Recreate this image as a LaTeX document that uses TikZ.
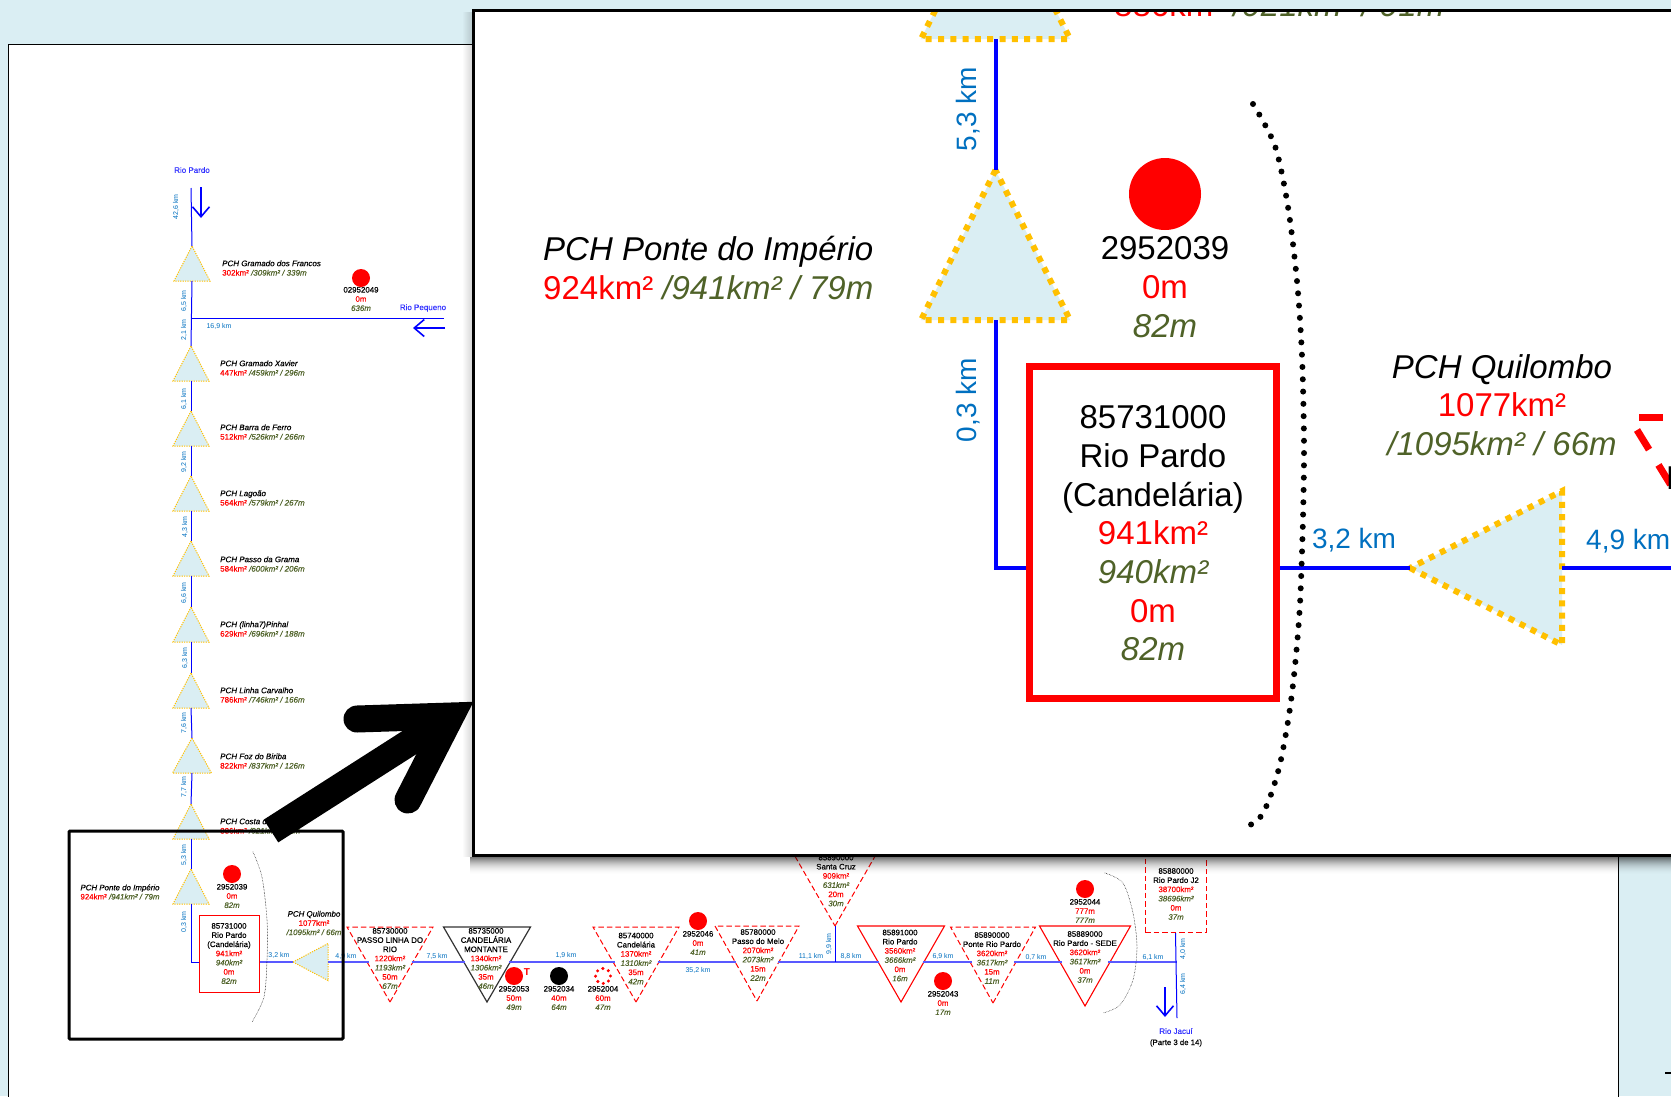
\documentclass[tikz,border=0pt]{standalone}
\usepackage{fontspec}
\setmainfont{Liberation Sans}
\newfontfamily\thumbfont{Liberation Sans}[FakeBold=0.3, ItalicFeatures={FakeBold=0.3}]
\usetikzlibrary{shapes.geometric,arrows.meta}
\definecolor{panelblue}{HTML}{DAEEF3}
\definecolor{stagered}{HTML}{FF0000}
\definecolor{stageolive}{HTML}{4F6228}
\definecolor{kmblue}{HTML}{0070C0}
\definecolor{pchyellow}{HTML}{FFC000}
\newcommand{\redtext}[1]{\textcolor{stagered}{#1}}
\newcommand{\olivetext}[1]{\textcolor{stageolive}{\itshape #1}}
\newcommand{\gaugetext}[5]{#1\\\redtext{#2}\\\olivetext{#3}\\\redtext{#4}\\\olivetext{#5}}
\newcommand{\raintext}[3]{#1\\\redtext{#2}\\\olivetext{#3}}
\newcommand{\pchtext}[3]{{\itshape #1}\\\redtext{#2}\olivetext{#3}}
\tikzset{
	smalltext/.style={inner sep=0pt, align=center, font=\thumbfont\fontsize{7.9}{9.2}\selectfont},
	pchsmall/.style={inner sep=0pt, align=left, font=\thumbfont\fontsize{8}{9.4}\selectfont},
	kmsmall/.style={inner sep=0pt, text=kmblue, font=\fontsize{7}{8.4}\selectfont},
	rivername/.style={inner sep=0pt, text=blue!80, font=\thumbfont\fontsize{8}{9.6}\selectfont},
	bigtext/.style={inner sep=0pt, align=center, font=\fontsize{33}{38.7}\selectfont},
	kmbig/.style={inner sep=0pt, text=kmblue, font=\fontsize{28}{33}\selectfont},
	tri/.style={isosceles triangle, isosceles triangle stretches, inner sep=0pt, outer sep=0pt},
	pchsmallmark/.style={tri, anchor=apex, shape border rotate=90, minimum width=36pt, minimum height=35pt, fill=panelblue, draw=pchyellow, line width=1pt, dash pattern=on 1.2pt off 1.2pt},
	pchbigmark/.style={tri, anchor=apex, minimum width=149pt, minimum height=150pt, fill=panelblue, draw=pchyellow, line width=6pt, dash pattern=on 6pt off 6.3pt},
	gaugedown/.style={tri, anchor=apex, shape border rotate=-90, minimum width=86pt, minimum height=75pt},
	reddash/.style={draw=stagered, line width=1pt, dash pattern=on 5.5pt off 3pt},
	redsolid/.style={draw=stagered, line width=1.1pt},
	rainmark/.style={circle, inner sep=0pt, outer sep=0pt, minimum size=18pt},
	riverline/.style={draw=blue, line width=1pt},
	mainline/.style={draw=blue!65, line width=1.3pt},
	flowarrow/.style={draw=blue, line width=1.6pt, -{Straight Barb[length=10pt,width=17pt]}},
	inflowline/.style={draw=black, line width=0.7pt, line cap=round, dash pattern=on 0pt off 1.5pt},
}
\begin{document}
\begin{tikzpicture}[x=1pt, y=-1pt]
	\useasboundingbox (0,0) rectangle (1671,1096);
	\clip (0,0) rectangle (1671,1096);
	\fill[panelblue] (0,0) rectangle (1671,1096);
	\filldraw[fill=white, draw=black, line width=1pt] (8,44) rectangle (1618,1110);
	\fill (1665,1072) rectangle (1671,1074);
	% river level of the lower row
	\coordinate (mainlevel) at (0,962);
	\coordinate (pardotop) at (191,188);
	\coordinate (pequenojoin) at (191,318);
	\coordinate (pequenoend) at (444,318);
	\coordinate (bendsmall) at (191,962);
	\coordinate (jacuitop) at (1177,933);
	\coordinate (jacuijoin) at (1177,962);
	\coordinate (jacuiend) at (1177,1018);
	\coordinate (santajoin) at (835,962);
	% small picture, PCH marks
	\node[pchsmallmark] (pchA) at (192,246) {};
	\node[pchsmallmark] (pchB) at (191,346) {};
	\node[pchsmallmark] (pchC) at (191,411) {};
	\node[pchsmallmark] (pchD) at (191,476) {};
	\node[pchsmallmark] (pchE) at (191,541) {};
	\node[pchsmallmark] (pchF) at (191,607) {};
	\node[pchsmallmark] (pchG) at (191,673) {};
	\node[pchsmallmark, minimum width=39pt] (pchH) at (192,738) {};
	\node[pchsmallmark] (pchI) at (191,804) {};
	\node[pchsmallmark] (pchJ) at (191,869) {};
	\node[pchsmallmark, shape border rotate=180, minimum height=35pt, minimum width=37pt] (pchK) at (293,962) {};
	\node[pchsmall, anchor=west] (pchAtext) at (222,268) {\pchtext{PCH Gramado dos Francos}{302km²}{ /309km² / 339m}};
	\node[pchsmall, anchor=west] (pchBtext) at (220,368) {\pchtext{PCH Gramado Xavier}{447km²}{ /459km² / 296m}};
	\node[pchsmall, anchor=west] (pchCtext) at (220,432) {\pchtext{PCH Barra de Ferro}{512km²}{ /526km² / 266m}};
	\node[pchsmall, anchor=west] (pchDtext) at (220,498) {\pchtext{PCH Lagoão}{564km²}{ /579km² / 267m}};
	\node[pchsmall, anchor=west] (pchEtext) at (220,564) {\pchtext{PCH Passo da Grama}{584km²}{ /600km² / 206m}};
	\node[pchsmall, anchor=west] (pchFtext) at (220,629) {\pchtext{PCH (linha7)Pinhal}{629km²}{ /696km² / 188m}};
	\node[pchsmall, anchor=west] (pchGtext) at (220,695) {\pchtext{PCH Linha Carvalho}{786km²}{ /746km² / 166m}};
	\node[pchsmall, anchor=west] (pchHtext) at (220,761) {\pchtext{PCH Foz do Biriba}{822km²}{ /837km² / 126m}};
	\node[pchsmall, anchor=west] (pchItext) at (220,826) {\pchtext{PCH Costa do}{886km²}{ /921km² / 91m}};
	\node[smalltext] (pchJtext) at (120,892) {\pchtext{PCH Ponte do Império}{924km²}{ /941km² / 79m}};
	\node[smalltext] (pchKtext) at (314,923) {{\itshape PCH Quilombo}\\\redtext{1077km²}\\\olivetext{/1095km² / 66m}};
	% small picture, stations
	\node[draw=stagered, line width=1pt, minimum width=60pt, minimum height=77pt, inner sep=0pt] (gaugeA) at (229,953.5) {};
	\node[smalltext] (gaugeAtext) at (229,953.5) {\gaugetext{85731000\\Rio Pardo\\(Candelária)}{941km²}{940km²}{0m}{82m}};
	\node[gaugedown, reddash] (gaugeB) at (390,1002) {};
	\node[smalltext] (gaugeBtext) at (390,958.5) {\gaugetext{85730000\\PASSO LINHA DO\\RIO}{1220km²}{1193km²}{50m}{67m}};
	\node[gaugedown, draw=black!80, line width=1.2pt, minimum width=87pt] (gaugeC) at (487,1002) {};
	\node[smalltext] (gaugeCtext) at (486,958.5) {\gaugetext{85735000\\CANDELÁRIA\\MONTANTE}{1340km²}{1306km²}{35m}{46m}};
	\node[gaugedown, reddash] (gaugeD) at (636,1002) {};
	\node[smalltext] (gaugeDtext) at (636,958.5) {\gaugetext{85740000\\Candelária}{1370km²}{1310km²}{35m}{42m}};
	\node[gaugedown, reddash, minimum width=84pt] (gaugeE) at (757,1001) {};
	\node[smalltext] (gaugeEtext) at (758,955) {\gaugetext{85780000\\Passo do Melo}{2070km²}{2073km²}{15m}{22m}};
	\node[gaugedown, reddash] (gaugeF) at (835,926) {};
	\node[smalltext] (gaugeFtext) at (836,880.5) {\gaugetext{85890000\\Santa Cruz}{909km²}{631km²}{20m}{30m}};
	\node[gaugedown, redsolid, minimum width=87pt, minimum height=76pt] (gaugeG) at (901,1002) {};
	\node[smalltext] (gaugeGtext) at (900,955.5) {\gaugetext{85891000\\Rio Pardo}{3560km²}{3666km²}{0m}{16m}};
	\node[gaugedown, reddash, minimum width=85pt, minimum height=76pt] (gaugeH) at (993,1003) {};
	\node[smalltext] (gaugeHtext) at (992,958) {\gaugetext{85890000\\Ponte Rio Pardo}{3620km²}{3617km²}{15m}{11m}};
	\node[gaugedown, redsolid, minimum width=91pt, minimum height=80pt] (gaugeI) at (1085,1006) {};
	\node[smalltext] (gaugeItext) at (1085,957) {\gaugetext{85889000\\Rio Pardo - SEDE}{3620km²}{3617km²}{0m}{37m}};
	\node[reddash, minimum width=61pt, minimum height=82pt, inner sep=0pt] (gaugeJ) at (1175.5,891) {};
	\node[smalltext] (gaugeJtext) at (1176,894) {\gaugetext{85880000\\Rio Pardo J2}{38700km²}{38696km²}{0m}{37m}};
	% small picture, river
	\draw[riverline] (pardotop) -- (pchA.apex);
	\draw[riverline] (pchA.lower side) -- (pchB.apex);
	\draw[riverline] (pchB.lower side) -- (pchC.apex);
	\draw[riverline] (pchC.lower side) -- (pchD.apex);
	\draw[riverline] (pchD.lower side) -- (pchE.apex);
	\draw[riverline] (pchE.lower side) -- (pchF.apex);
	\draw[riverline] (pchF.lower side) -- (pchG.apex);
	\draw[riverline] (pchG.lower side) -- (pchH.apex);
	\draw[riverline] (pchH.lower side) -- (pchI.apex);
	\draw[riverline] (pchI.lower side) -- (pchJ.apex);
	\draw[riverline] (pchJ.lower side) -- (bendsmall) -- (gaugeA.west |- bendsmall);
	\draw[riverline] (pequenojoin) -- (pequenoend);
	\draw[mainline] (gaugeA.east |- mainlevel) -- (pchK.apex);
	\draw[mainline] (pchK.lower side |- mainlevel) -- (gaugeB.right side |- mainlevel);
	\draw[mainline] (gaugeB.left side |- mainlevel) -- (gaugeC.right side |- mainlevel);
	\draw[mainline] (gaugeC.left side |- mainlevel) -- (gaugeD.right side |- mainlevel);
	\draw[mainline] (gaugeD.left side |- mainlevel) -- (gaugeE.right side |- mainlevel);
	\draw[mainline] (gaugeE.left side |- mainlevel) -- (gaugeG.right side |- mainlevel);
	\draw[mainline] (gaugeG.left side |- mainlevel) -- (gaugeH.right side |- mainlevel);
	\draw[mainline] (gaugeH.left side |- mainlevel) -- (gaugeI.right side |- mainlevel);
	\draw[mainline] (gaugeI.left side |- mainlevel) -- (jacuijoin);
	\draw[riverline] (gaugeF.apex) -- (santajoin);
	\draw[riverline] (gaugeJ.south |- jacuitop) -- (jacuiend);
	\coordinate (pardoarrowa) at (201,187);
	\coordinate (pardoarrowb) at (201,218);
	\coordinate (pequenoarrowa) at (445,328);
	\coordinate (pequenoarrowb) at (413,328);
	\coordinate (jacuiarrowa) at (1165,987);
	\coordinate (jacuiarrowb) at (1165,1017);
	\draw[flowarrow] (pardoarrowa) -- (pardoarrowb);
	\draw[flowarrow] (pequenoarrowa) -- (pequenoarrowb);
	\draw[flowarrow] (jacuiarrowa) -- (jacuiarrowb);
	\node[rivername] (pardotext) at (192,170) {Rio Pardo};
	\node[rivername] (pequenotext) at (423,308) {Rio Pequeno};
	\node[rivername] (jacuitext) at (1176,1031) {Rio Jacuí};
	\node[inner sep=0pt, font=\thumbfont\fontsize{7.8}{9}\selectfont] (partetext) at (1176,1043) {(Parte 3 de 14)};
	% small picture, river lengths
	\node[kmsmall, rotate=90] (kmA) at (176,207) {42,6 km};
	\node[kmsmall, rotate=90] (kmB) at (184,301) {6,5 km};
	\node[kmsmall, rotate=90] (kmC) at (184,330) {2,1 km};
	\node[kmsmall] (kmD) at (219,326) {16,9 km};
	\node[kmsmall, rotate=90] (kmE) at (184,399) {6,1 km};
	\node[kmsmall, rotate=90] (kmF) at (184,462) {9,2 km};
	\node[kmsmall, rotate=90] (kmG) at (185,527) {4,3 km};
	\node[kmsmall, rotate=90] (kmH) at (184,593) {6,6 km};
	\node[kmsmall, rotate=90] (kmI) at (185,658) {6,3 km};
	\node[kmsmall, rotate=90] (kmJ) at (184,723) {7,6 km};
	\node[kmsmall, rotate=90] (kmK) at (184,787) {7,7 km};
	\node[kmsmall, rotate=90] (kmL) at (184,855) {5,3 km};
	\node[kmsmall, rotate=90] (kmM) at (184,922) {0,3 km};
	\node[kmsmall] (kmN) at (279,955) {3,2 km};
	\node[kmsmall] (kmO) at (346,956) {4,9 km};
	\node[kmsmall] (kmP) at (437,956) {7,5 km};
	\node[kmsmall] (kmQ) at (566,955) {1,9 km};
	\node[kmsmall] (kmR) at (698,970) {35,2 km};
	\node[kmsmall] (kmS) at (811,956) {11,1 km};
	\node[kmsmall, rotate=90] (kmT) at (829,944) {9,9 km};
	\node[kmsmall] (kmU) at (851,956) {8,8 km};
	\node[kmsmall] (kmV) at (943,956) {6,9 km};
	\node[kmsmall] (kmW) at (1036,957) {0,7 km};
	\node[kmsmall] (kmX) at (1153,957) {6,1 km};
	\node[kmsmall, rotate=90] (kmY) at (1183,949) {4,0 km};
	\node[kmsmall, rotate=90] (kmZ) at (1183,984) {6,4 km};
	% small picture, rain gauges
	\node[rainmark, fill=stagered] (rainA) at (361,278) {};
	\node[smalltext] (rainAtext) at (361,299) {\raintext{02952049}{0m}{636m}};
	\node[rainmark, fill=stagered] (rainB) at (232,874) {};
	\node[smalltext] (rainBtext) at (232,896) {\raintext{2952039}{0m}{82m}};
	\node[rainmark, fill=stagered] (rainC) at (514,976) {};
	\node[inner sep=0pt, text=stagered, font=\fontsize{10}{12}\bfseries\selectfont] (rainCflag) at (527,972) {T};
	\node[smalltext] (rainCtext) at (514,998) {\raintext{2952053}{50m}{49m}};
	\node[rainmark, fill=black] (rainD) at (559,976) {};
	\node[smalltext] (rainDtext) at (559,998) {\raintext{2952034}{40m}{64m}};
	\node[rainmark, draw=stagered, minimum size=15pt, line width=3.4pt, line cap=round, dash pattern=on 0pt off 5.9pt] (rainE) at (603,976) {};
	\node[smalltext] (rainEtext) at (603,998) {\raintext{2952004}{60m}{47m}};
	\node[rainmark, fill=stagered] (rainF) at (698,921) {};
	\node[smalltext] (rainFtext) at (698,943) {\raintext{2952046}{0m}{41m}};
	\node[rainmark, fill=stagered] (rainG) at (943,981) {};
	\node[smalltext] (rainGtext) at (943,1003) {\raintext{2952043}{0m}{17m}};
	\node[rainmark, fill=stagered] (rainH) at (1085,889) {};
	\node[smalltext] (rainHtext) at (1085,911) {\raintext{2952044}{777m}{777m}};
	% small picture, curved limits
	\draw[inflowline] plot[smooth] coordinates {(253,852) (262,877) (267,920) (267,960) (264,997) (252,1022)};
	\draw[inflowline] plot[smooth] coordinates {(1105,873) (1123,883) (1133,913) (1137,947) (1133,980) (1120,1005) (1103,1013)};
	% zoom frame and pointer
	\node[draw=black, line width=3pt, rounded corners=1pt, minimum width=274pt, minimum height=208pt, inner sep=0pt] (zoomframe) at (206,935) {};
	\coordinate (pointertail) at (271,831);
	\coordinate (pointertip) at (451,716);
	\coordinate (pointerup) at (357,719);
	\coordinate (pointerdown) at (408,800);
	\draw[line width=27pt] (pointertail) -- (pointertip);
	\draw[line width=27pt, line cap=round, line join=miter] (pointerup) -- (pointertip) -- (pointerdown);
	% shadow of the enlarged window
	\foreach \i in {0,...,17} {
		\pgfmathsetmacro{\shade}{0.55*(1-\i/18)*(1-\i/18)}
		\fill[black, opacity=\shade] (470,857+\i) rectangle (1671,858+\i);
	}
	\foreach \i in {0,...,8} {
		\pgfmathsetmacro{\shade}{0.14*(1-\i/9)}
		\fill[black, opacity=\shade] (471-\i,12) rectangle (472-\i,857);
	}
	% enlarged window
	\fill[white] (473.5,10) rectangle (1680,855);
	\begin{scope}
		\clip (473.5,10) rectangle (1680,855);
		\node[bigtext, anchor=west] (costatext) at (1114,5) {\redtext{886km²}\olivetext{ /921km² / 91m}};
		\node[pchbigmark, shape border rotate=90] (bigpchI) at (995.5,-111) {};
		\node[pchbigmark, shape border rotate=90] (bigpchJ) at (995.5,170) {};
		\node[pchbigmark, shape border rotate=180, minimum width=154pt, minimum height=152pt] (bigpchK) at (1410,568) {};
		\node[draw=stagered, line width=7pt, minimum width=247pt, minimum height=332pt, inner sep=0pt] (biggauge) at (1153,532.5) {};
		\coordinate (bigbend) at (995.5,568);
		\coordinate (bigright) at (1690,568);
		\draw[draw=blue, line width=4pt] (bigpchI.lower side) -- (bigpchJ.apex);
		\draw[draw=blue, line width=4pt] (bigpchJ.lower side) -- (bigbend) -- (biggauge.west |- bigbend);
		\draw[draw=blue, line width=4pt] (biggauge.east |- bigbend) -- (bigpchK.apex);
		\draw[draw=blue, line width=4pt] (bigpchK.lower side |- bigbend) -- (bigright);
		\node[bigtext] (biggaugetext) at (1153,533.5) {\gaugetext{85731000\\Rio Pardo\\(Candelária)}{941km²}{940km²}{0m}{82m}};
		\node[bigtext, anchor=west] (bigponte) at (543,268) {\pchtext{PCH Ponte do Império}{924km²}{ /941km² / 79m}};
		\node[rainmark, fill=stagered, minimum size=72pt] (bigrain) at (1165,194) {};
		\node[bigtext] (bigraintext) at (1165,287) {\raintext{2952039}{0m}{82m}};
		\node[bigtext] (bigquilombo) at (1502,405) {{\itshape PCH Quilombo}\\\redtext{1077km²}\\\olivetext{/1095km² / 66m}};
		\node[kmbig, rotate=90] (bigkmA) at (968,109) {5,3 km};
		\node[kmbig, rotate=90] (bigkmB) at (968,400) {0,3 km};
		\node[kmbig] (bigkmC) at (1354,540) {3,2 km};
		\node[kmbig, anchor=west] (bigkmD) at (1586,541) {4,9 km};
		\draw[line width=6pt, line cap=round, dash pattern=on 0pt off 12.3pt] plot[smooth] coordinates {(1253,104) (1275,146) (1288,207) (1297,281) (1302,356) (1304,443) (1303,518) (1300,604) (1295,666) (1289,715) (1280,764) (1269,800) (1258,820) (1243,828)};
		% piece of the next station at the edge
		\coordinate (cuttop) at (1639,417);
		\coordinate (cuttopend) at (1700,417);
		\coordinate (cutside) at (1637,430);
		\coordinate (cutsideend) at (1680,500);
		\draw[draw=stagered, line width=7pt, dash pattern=on 24pt off 20pt] (cuttop) -- (cuttopend);
		\draw[draw=stagered, line width=7pt, dash pattern=on 23pt off 18pt] (cutside) -- (cutsideend);
		\node[bigtext, anchor=west] (cuttext) at (1666,478) {PASSO};
	\end{scope}
	\draw[line width=3pt] (1680,10) -- (473.5,10) -- (473.5,855) -- (1680,855);
\end{tikzpicture}
\end{document}
